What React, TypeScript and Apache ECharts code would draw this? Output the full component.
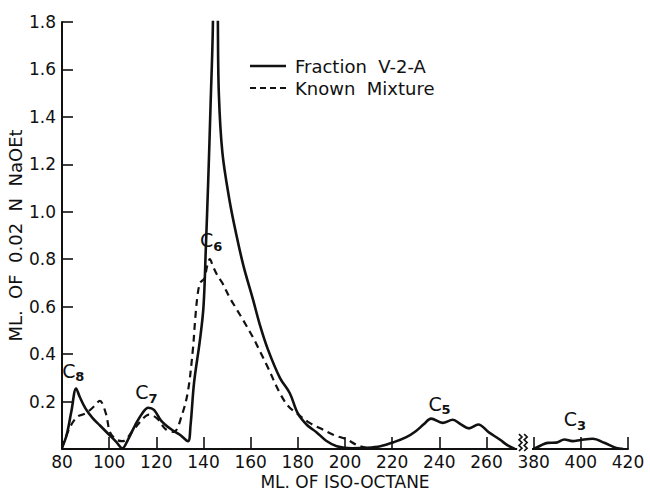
import React, { useEffect, useRef } from "react";
import * as echarts from "echarts";

// ---- data (x in mL of iso-octane, y in mL of 0.02 N NaOEt) ----
const fractionX = [80, 82, 84, 86, 87.5, 90, 93, 96, 100, 103, 105.6, 108, 111, 114, 116.6, 119, 122, 126, 130, 133.4, 134.5, 136, 138.5, 140, 141, 142, 143, 144, 144.3, 145.8, 146.1, 146.5, 148, 151, 154, 157, 161, 164, 167.3, 172.4, 176.6, 180, 184, 188, 192, 196.5, 203, 209, 215, 221, 226, 230, 233.5, 236.5, 241.4, 245.7, 249, 252.6, 256.5, 261, 265.6, 269, 272];
const fractionY = [0.005, 0.06, 0.16, 0.255, 0.22, 0.17, 0.13, 0.1, 0.06, 0.03, 0.003, 0.04, 0.1, 0.15, 0.174, 0.165, 0.12, 0.085, 0.06, 0.033, 0.1, 0.28, 0.46, 0.6, 0.85, 1.13, 1.45, 1.8, 2.4, 2.4, 1.8, 1.5, 1.25, 1.05, 0.9, 0.77, 0.63, 0.52, 0.42, 0.3, 0.235, 0.15, 0.1, 0.07, 0.035, 0.012, 0.003, 0.005, 0.012, 0.03, 0.05, 0.075, 0.105, 0.128, 0.11, 0.123, 0.105, 0.087, 0.103, 0.07, 0.04, 0.015, 0];
const fractionC3X = [380, 383, 386, 389.5, 393, 396.5, 400, 405, 410, 415, 418];
const fractionC3Y = [0, 0.015, 0.026, 0.027, 0.04, 0.033, 0.038, 0.043, 0.026, 0.004, 0];
const mixtureX = [80, 83, 86.4, 90, 93.4, 96, 98.6, 100.4, 103, 105.6, 110, 114.3, 116.9, 120.4, 123.9, 127.4, 130.8, 133.4, 135.5, 136.5, 137.5, 138.5, 139.5, 140.5, 141.5, 142.7, 144, 146, 148, 151, 154, 157, 161, 164, 167, 172.4, 176, 179.6, 185, 190, 195, 200.8, 205, 209];
const mixtureY = [0.005, 0.084, 0.135, 0.15, 0.178, 0.203, 0.15, 0.07, 0.04, 0.033, 0.077, 0.128, 0.145, 0.128, 0.084, 0.072, 0.142, 0.243, 0.42, 0.55, 0.65, 0.7, 0.71, 0.72, 0.77, 0.8, 0.77, 0.73, 0.7, 0.64, 0.59, 0.54, 0.47, 0.41, 0.35, 0.235, 0.18, 0.15, 0.11, 0.085, 0.06, 0.04, 0.017, 0.005];

const annotationSubs = ["8", "7", "6", "5", "3"];
const annotationX = [85, 116, 143.5, 240.3, 397.7];
const annotationY = [0.33, 0.24, 0.88, 0.19, 0.125];

const legendNames = ["Fraction  V-2-A", "Known  Mixture"];
const xAxisName = "ML. OF ISO-OCTANE";
const yAxisName = "ML.  OF  0.02  N  NaOEt";

// axis break: 270-380 is removed, values from 380 on are shifted left
const BREAK_FROM = 380;
const BREAK_SHIFT = 100;
const toAxis = (x: number) => (x >= BREAK_FROM ? x - BREAK_SHIFT : x);
const fromAxis = (v: number) => (v >= BREAK_FROM - BREAK_SHIFT ? v + BREAK_SHIFT : v);

const INK = "#111";
const FONT = "DejaVu Sans";

const pairs = (xs: number[], ys: number[]) => xs.map((x, i) => [toAxis(x), ys[i]]);

export default function App() {
  const ref = useRef<HTMLDivElement>(null);
  useEffect(() => {
    if (!ref.current) return;
    const chart = echarts.init(ref.current, null, { renderer: "svg" });
    const lineBase = { type: "line", showSymbol: false, symbol: "none", smooth: 0.35, clip: true, z: 3 };
    chart.setOption({
      animation: false,
      backgroundColor: "#fff",
      grid: { left: 62, right: 22, top: 22, bottom: 43, containLabel: false, outerBoundsMode: "none" },
      xAxis: {
        type: "value",
        min: 80,
        max: 320,
        interval: 20,
        name: xAxisName,
        nameLocation: "middle",
        nameGap: 33,
        nameMoveOverlap: false,
        nameTextStyle: { fontFamily: FONT, fontSize: 17, lineHeight: 17, color: INK, verticalAlign: "middle" },
        axisLine: { lineStyle: { color: INK, width: 2 } },
        axisTick: { inside: true, length: 12, lineStyle: { color: INK, width: 1.6 } },
        axisLabel: {
          fontFamily: FONT,
          fontSize: 17,
          lineHeight: 17,
          color: INK,
          margin: 4,
          formatter: (v: number) => String(fromAxis(v)),
        },
        splitLine: { show: false },
      },
      yAxis: {
        type: "value",
        min: 0,
        max: 1.8,
        interval: 0.2,
        name: yAxisName,
        nameLocation: "middle",
        nameRotate: 90,
        nameGap: 47,
        nameMoveOverlap: false,
        nameTextStyle: { fontFamily: FONT, fontSize: 18, lineHeight: 18, color: INK, verticalAlign: "middle" },
        axisLine: { show: true, lineStyle: { color: INK, width: 2 } },
        axisTick: { show: true, inside: true, length: 11, lineStyle: { color: INK, width: 1.6 } },
        axisLabel: {
          fontFamily: FONT,
          fontSize: 17,
          color: INK,
          margin: 6,
          formatter: (v: number) => (v === 0 ? "" : v.toFixed(1)),
        },
        splitLine: { show: false },
      },
      series: [
        { ...lineBase, name: "Fraction V-2-A", data: pairs(fractionX, fractionY), lineStyle: { color: INK, width: 2.6 } },
        { ...lineBase, name: "Fraction V-2-A C3", data: pairs(fractionC3X, fractionC3Y), lineStyle: { color: INK, width: 2.6 } },
        { ...lineBase, name: "Known Mixture", data: pairs(mixtureX, mixtureY), lineStyle: { color: INK, width: 2.2, type: [7, 5] } },
      ],
    });

    const px = (x: number, y: number) => chart.convertToPixel({ gridIndex: 0 } as any, [x, y]) as number[];
    const graphics: any[] = [];
    // annotations
    annotationSubs.forEach((s, i) => {
      const [cx, cy] = px(toAxis(annotationX[i]), annotationY[i]);
      graphics.push({
        type: "text",
        x: cx - 5,
        y: cy,
        z: 10,
        style: { text: "C", fontFamily: FONT, fontSize: 19, fill: INK, align: "center", verticalAlign: "middle" },
      });
      graphics.push({
        type: "text",
        x: cx + 6,
        y: cy + 6,
        z: 10,
        style: { text: s, fontFamily: FONT, fontSize: 13, fill: INK, align: "center", verticalAlign: "middle", fontWeight: "bold" },
      });
    });
    // legend
    const legY = [66, 88];
    graphics.push({ type: "line", shape: { x1: 250, y1: legY[0], x2: 286, y2: legY[0] }, style: { stroke: INK, lineWidth: 2.6 } });
    graphics.push({ type: "line", shape: { x1: 250, y1: legY[1], x2: 286, y2: legY[1] }, style: { stroke: INK, lineWidth: 2.2, lineDash: [6, 4] } });
    legendNames.forEach((n, i) => {
      graphics.push({
        type: "text",
        x: 295,
        y: legY[i],
        style: { text: n, fontFamily: FONT, fontSize: 18, fill: INK, align: "left", verticalAlign: "middle" },
      });
    });
    // axis break marks
    const [bx0, by] = px(273, 0);
    const [bx1] = px(279.3, 0);
    graphics.push({ type: "rect", shape: { x: bx0, y: by - 3, width: bx1 - bx0, height: 6 }, style: { fill: "#fff" }, z: 20 });
    [274.4, 276.6].forEach((b) => {
      const [sx] = px(b, 0);
      const pts: number[][] = [];
      for (let k = 0; k <= 6; k++) pts.push([sx + (k % 2 === 0 ? -1.5 : 1.5), by + 2 - k * 2.8]);
      graphics.push({ type: "polyline", shape: { points: pts }, style: { stroke: INK, lineWidth: 1.6, fill: null }, z: 21 });
    });
    chart.setOption({ graphic: graphics });

    return () => chart.dispose();
  }, []);
  return <div ref={ref} style={{ width: 650, height: 492, position: "absolute", left: 0, top: 0 }} />;
}
